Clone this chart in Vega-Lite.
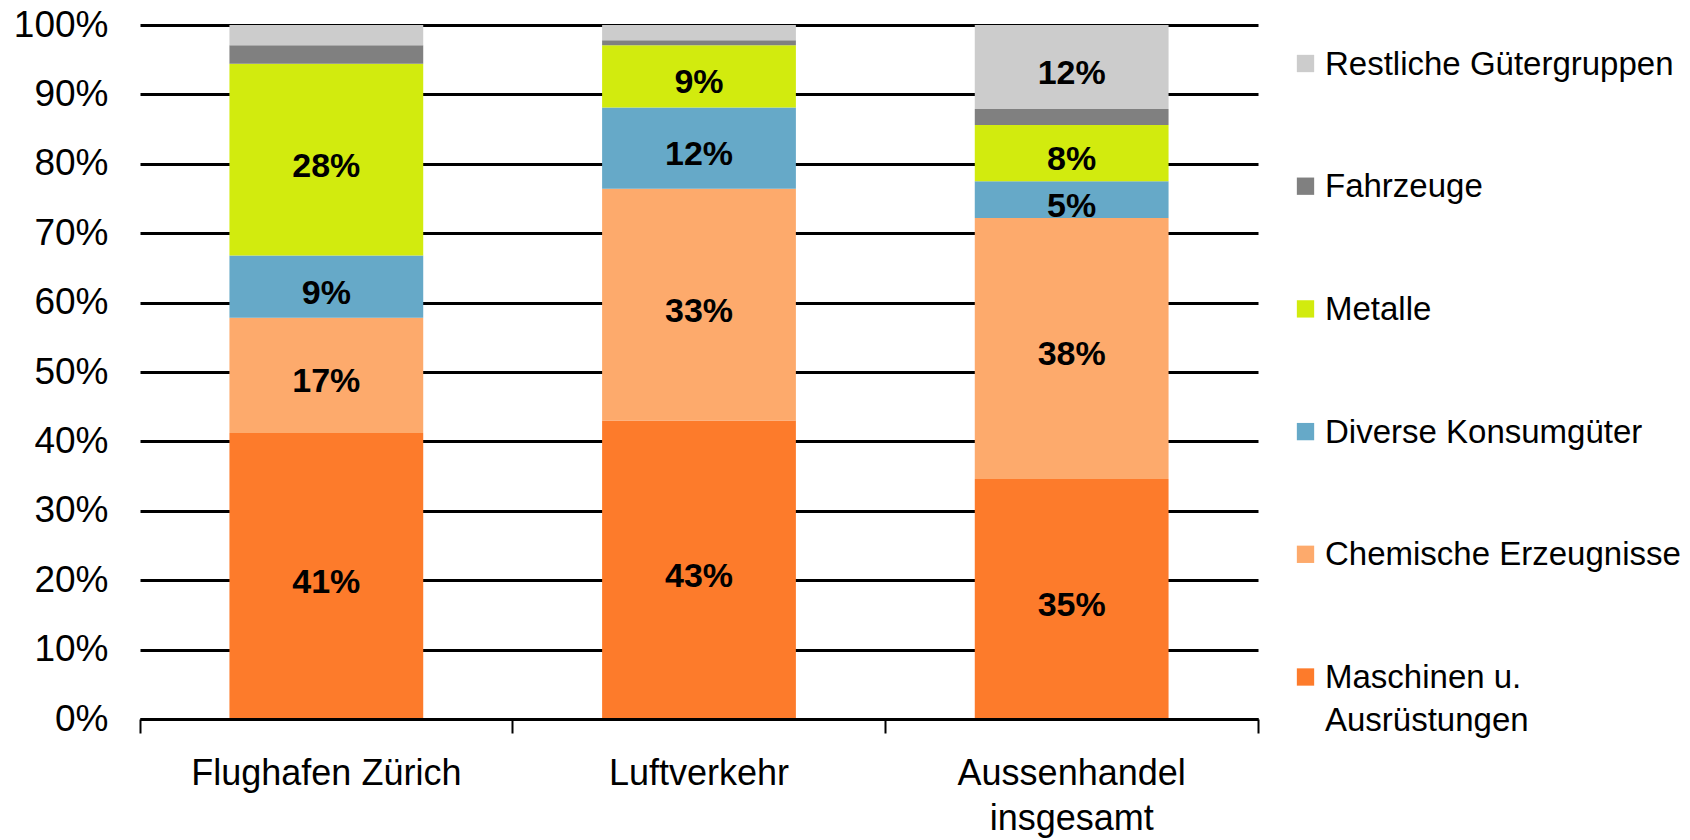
{
  "$schema": "https://vega.github.io/schema/vega-lite/v6.json",
  "width": 1118,
  "height": 694,
  "autosize": {"type": "none"},
  "padding": {"left": 140, "top": 25, "right": 432, "bottom": 121},
  "background": "white",
  "config": {"view": {"stroke": null}, "font": "Liberation Sans"},
  "data": {
    "values": [
      {"kat": "Flughafen Zürich", "gruppe": "Maschinen u. Ausrüstungen", "anteil": 0.412},
      {"kat": "Flughafen Zürich", "gruppe": "Chemische Erzeugnisse", "anteil": 0.166},
      {"kat": "Flughafen Zürich", "gruppe": "Diverse Konsumgüter", "anteil": 0.090},
      {"kat": "Flughafen Zürich", "gruppe": "Metalle", "anteil": 0.276},
      {"kat": "Flughafen Zürich", "gruppe": "Fahrzeuge", "anteil": 0.027},
      {"kat": "Flughafen Zürich", "gruppe": "Restliche Gütergruppen", "anteil": 0.029},
      {"kat": "Luftverkehr", "gruppe": "Maschinen u. Ausrüstungen", "anteil": 0.430},
      {"kat": "Luftverkehr", "gruppe": "Chemische Erzeugnisse", "anteil": 0.334},
      {"kat": "Luftverkehr", "gruppe": "Diverse Konsumgüter", "anteil": 0.117},
      {"kat": "Luftverkehr", "gruppe": "Metalle", "anteil": 0.090},
      {"kat": "Luftverkehr", "gruppe": "Fahrzeuge", "anteil": 0.007},
      {"kat": "Luftverkehr", "gruppe": "Restliche Gütergruppen", "anteil": 0.022},
      {"kat": "Aussenhandel insgesamt", "gruppe": "Maschinen u. Ausrüstungen", "anteil": 0.346},
      {"kat": "Aussenhandel insgesamt", "gruppe": "Chemische Erzeugnisse", "anteil": 0.376},
      {"kat": "Aussenhandel insgesamt", "gruppe": "Diverse Konsumgüter", "anteil": 0.053},
      {"kat": "Aussenhandel insgesamt", "gruppe": "Metalle", "anteil": 0.081},
      {"kat": "Aussenhandel insgesamt", "gruppe": "Fahrzeuge", "anteil": 0.023},
      {"kat": "Aussenhandel insgesamt", "gruppe": "Restliche Gütergruppen", "anteil": 0.121}
    ]
  },
  "transform": [
    {"calculate": "indexof(['Maschinen u. Ausrüstungen','Chemische Erzeugnisse','Diverse Konsumgüter','Metalle','Fahrzeuge','Restliche Gütergruppen'], datum.gruppe)", "as": "ord"}
  ],
  "encoding": {
    "x": {
      "field": "kat",
      "type": "nominal",
      "sort": null,
      "scale": {"paddingInner": 0, "paddingOuter": 0},
      "axis": {
        "title": null,
        "labelAngle": 0,
        "labelFontSize": 36,
        "labelFont": "Liberation Sans",
        "labelColor": "black",
        "bandPosition": 1,
        "tickExtra": true,
        "tickSize": 14,
        "tickWidth": 2,
        "tickColor": "black",
        "domainColor": "black",
        "domainWidth": 3,
        "labelPadding": 23,
        "labelBaseline": "top",
        "labelLineHeight": 45,
        "labelLimit": 0,
        "labelExpr": "datum.label == 'Aussenhandel insgesamt' ? ['Aussenhandel', 'insgesamt'] : datum.label",
        "grid": false,
        "zindex": 1
      }
    }
  },
  "layer": [
    {
      "mark": {"type": "bar", "width": {"band": 0.52}},
      "encoding": {
        "y": {
          "field": "anteil",
          "type": "quantitative",
          "stack": "zero",
          "scale": {"domain": [0, 1], "nice": false},
          "axis": {
            "title": null,
            "format": ".0%",
            "values": [0, 0.1, 0.2, 0.3, 0.4, 0.5, 0.6, 0.7, 0.8, 0.9, 1],
            "domain": false,
            "ticks": false,
            "tickSize": 0,
            "grid": true,
            "gridColor": "black",
            "gridWidth": 3,
            "gridOpacity": 1,
            "labelFontSize": 37,
            "labelFont": "Liberation Sans",
            "labelColor": "black",
            "labelPadding": 32,
            "zindex": 0
          }
        },
        "color": {
          "field": "gruppe",
          "type": "nominal",
          "scale": {
            "domain": ["Restliche Gütergruppen", "Fahrzeuge", "Metalle", "Diverse Konsumgüter", "Chemische Erzeugnisse", "Maschinen u. Ausrüstungen"],
            "range": ["#CCCCCC", "#808080", "#D2EB0E", "#66A9C8", "#FDAA6C", "#FD7B2B"]
          },
          "legend": {
            "orient": "none",
            "legendX": 1149,
            "legendY": 22,
            "title": null,
            "padding": 0,
            "symbolType": "square",
            "symbolSize": 300,
            "symbolStrokeWidth": 0,
            "symbolOpacity": 1,
            "labelFontSize": 33,
            "labelFont": "Liberation Sans",
            "labelColor": "black",
            "labelOffset": 3,
            "labelLimit": 500,
            "rowPadding": 87.7,
            "labelBaseline": "alphabetic",
            "labelExpr": "datum.label == 'Maschinen u. Ausrüstungen' ? ['Maschinen u.', 'Ausrüstungen'] : datum.label",
            "encode": {
              "labels": {"update": {"dy": {"value": 11}, "lineHeight": {"value": 43}}}
            }
          }
        },
        "order": {"field": "ord", "type": "quantitative"}
      }
    },
    {
      "mark": {"type": "text", "fontWeight": "bold", "fontSize": 34, "font": "Liberation Sans", "baseline": "middle", "dy": 7, "color": "black"},
      "encoding": {
        "y": {"field": "anteil", "type": "quantitative", "stack": "zero", "bandPosition": 0.5},
        "detail": {"field": "gruppe"},
        "order": {"field": "ord", "type": "quantitative"},
        "text": {
          "condition": {"test": "datum.anteil >= 0.045", "field": "anteil", "type": "quantitative", "format": ".0%"},
          "value": ""
        }
      }
    }
  ]
}
